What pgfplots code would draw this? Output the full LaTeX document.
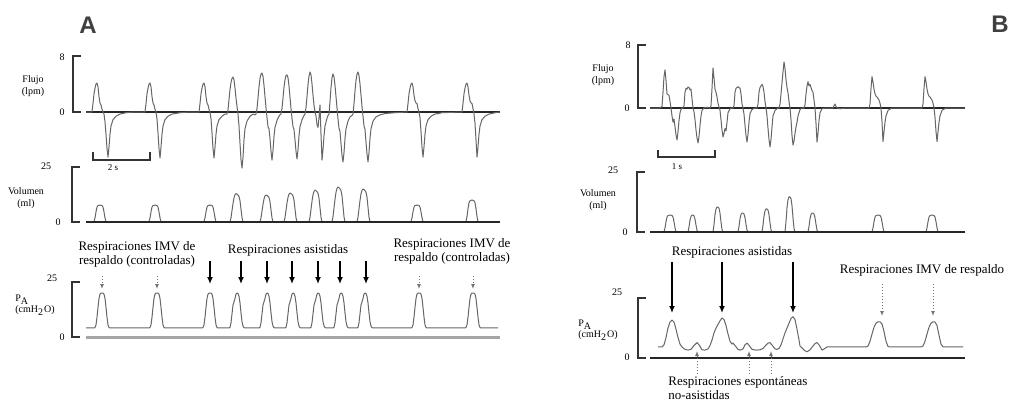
\documentclass[border=0pt]{standalone}
\usepackage{pgfplots}
\pgfplotsset{compat=1.18}
\usepackage{fontspec}
\setmainfont{Liberation Serif}
\newfontfamily\headfont{Liberation Sans}
\usetikzlibrary{arrows.meta}
\newcommand\annfont{\fontsize{6.5}{7}\selectfont}
\newcommand\labfont{\fontsize{5}{5.6}\selectfont}
\newcommand\tickfont{\fontsize{5}{5.6}\selectfont}
\pgfplotsset{panel/.style={scale only axis, width=505.5pt, xmin=0, xmax=1011, hide axis, clip=false, anchor=south west}}
\tikzset{
  trace/.style={draw=black!60, line width=0.5pt, line join=round},
  base/.style={draw=black!85, line width=0.9pt},
  brk/.style={draw=black!80, line width=0.7pt},
  sarr/.style={draw=black, line width=0.7pt, -{Latex[length=3.5pt,width=3pt]}},
  darr/.style={draw=black!55, line width=0.5pt, densely dotted, -{Latex[length=2.5pt,width=2pt]}}
}
\begin{document}
\begin{tikzpicture}
\path[use as bounding box, fill=white] (0,0) rectangle (505.5pt,201.5pt);

% ===== Panel A: Flujo =====
\begin{axis}[panel, at={(0pt,117.5pt)}, height=56pt, ymin=-8, ymax=8]
\addplot[brk] coordinates {(81,8)(73,8)(73,0)(81,0)};
\addplot[base] coordinates {(86,0)(500,0)};
\addplot[trace] coordinates {
(86,0)(92,0)(93,1.2)(94,2.6)(95,3.4)(96,4.0)(97,4.14)(98,3.6)(99,2.2)(100,1.3)(101,1.0)(102,0.4)(103,0)(104,-0.3)(105,-1.4)(106,-3.2)(107,-5.2)(108,-6.43)(109,-5.0)(110,-3.2)(111,-2.0)(113,-1.1)(116,-0.6)(120,-0.3)(126,-0.1)(134,0)
(145,0)(146,1.2)(147,2.6)(148,3.4)(149,4.0)(150,4.14)(151,3.6)(152,2.2)(153,1.3)(154,1.0)(155,0.4)(156,0)(157,-1.0)(158,-3.0)(159,-5.2)(160,-6.57)(161,-5.0)(162,-3.2)(163,-2.0)(165,-1.1)(168,-0.6)(172,-0.3)(180,-0.1)(190,0)
(199,0)(200,1.2)(201,2.6)(202,3.4)(203,4.0)(204,4.14)(205,3.6)(206,2.2)(207,1.3)(208,1.0)(209,0.4)(210,0)(211,-1.0)(212,-3.0)(213,-5.2)(214,-6.57)(215,-5.0)(216,-3.2)(217,-2.0)(219,-1.1)(222,-0.6)(225,-0.3)
(227,-0.3)(228,0.3)(229,1.8)(230,3.2)(231,4.2)(232,4.8)(233,5.0)(234,4.6)(235,3.4)(236,2.0)(237,0.8)(238,-0.3)(239,-2.0)(240,-4.5)(241,-6.8)(242,-8.0)(243,-6.5)(244,-4.0)(245,-2.4)(247,-1.3)(250,-0.6)(253,-0.3)(255,-0.4)
(256,-0.3)(257,0.5)(258,2.0)(259,3.6)(260,4.8)(261,5.4)(262,5.57)(263,5.1)(264,3.8)(265,2.2)(266,0.6)(267,-0.8)(268,-2.1)(269,-2.4)(270,-3.8)(271,-5.6)(272,-6.86)(273,-5.5)(274,-3.5)(275,-2.2)(277,-1.2)(279,-0.6)(280,-0.4)
(281,-0.3)(282,0.5)(283,2.0)(284,3.5)(285,4.6)(286,5.2)(287,5.3)(288,4.9)(289,3.7)(290,2.1)(291,0.5)(292,-0.9)(293,-2.1)(294,-2.5)(295,-4.0)(296,-5.6)(297,-6.71)(298,-5.4)(299,-3.4)(300,-2.1)(302,-1.1)(304,-0.5)
(305,-0.3)(306,0.6)(307,2.2)(308,3.9)(309,5.1)(310,5.71)(311,5.3)(312,4.0)(313,2.4)(314,1.0)(315,0)(316,-0.6)(317,-1.8)(318,-2.2)(319,-0.8)(320,1.0)(321,-3.2)(322,-6.86)(323,-5.4)(324,-3.4)(325,-2.0)(327,-0.9)(328,-0.5)
(329,-0.3)(330,1.5)(331,3.5)(332,4.9)(333,5.43)(334,5.0)(335,3.8)(336,2.2)(337,0.6)(338,-1.0)(339,-2.3)(340,-2.8)(341,-4.5)(342,-6.2)(343,-7.14)(344,-5.8)(345,-3.8)(346,-2.4)(348,-1.3)(350,-0.7)(352,-0.5)
(353,-0.3)(354,1.2)(355,3.0)(356,4.5)(357,5.4)(358,5.71)(359,5.2)(360,4.0)(361,2.4)(362,0.8)(363,-0.6)(364,-2.0)(365,-2.5)(366,-4.3)(367,-6.0)(368,-7.14)(369,-5.8)(370,-3.8)(371,-2.4)(373,-1.3)(376,-0.7)(380,-0.4)(386,-0.2)(395,-0.1)(407,0)
(408,1.2)(409,2.6)(410,3.4)(411,4.0)(412,4.14)(413,3.6)(414,2.4)(415,1.6)(416,1.3)(417,1.2)(418,0.5)(419,0)(420,-0.8)(421,-2.8)(422,-5.0)(423,-6.43)(424,-5.0)(425,-3.2)(426,-2.0)(428,-1.1)(431,-0.6)(435,-0.3)(442,-0.1)(462,0)
(463,1.2)(464,2.6)(465,3.4)(466,4.0)(467,4.14)(468,3.6)(469,2.4)(470,1.6)(471,1.3)(472,1.2)(473,0.5)(474,-0.3)(475,-1.6)(476,-4.0)(477,-6.43)(478,-5.0)(479,-3.2)(480,-2.0)(482,-1.1)(485,-0.6)(489,-0.3)(495,-0.1)(500,0)};
\end{axis}

% ===== Panel A: Volumen =====
\begin{axis}[panel, at={(0pt,90.5pt)}, height=27.5pt, ymin=0, ymax=25]
\addplot[brk] coordinates {(80,25)(72,25)(72,0)(80,0)};
\addplot[trace] coordinates {
(86,0)(94,0)(95,1.93)(96,4.62)(97,6.78)(98,7.47)(100,7.7)(102,7.47)(103,6.78)(104,4.62)(105,1.93)(106,0)
(149,0)(150,1.93)(151,4.62)(152,6.78)(153,7.47)(155,7.7)(157,7.47)(158,6.78)(159,4.62)(160,1.93)(161,0)
(204,0)(205,1.93)(206,4.62)(207,6.78)(208,7.47)(210,7.7)(212,7.47)(213,6.78)(214,4.62)(215,1.93)(216,0)
(230,0)(231,1.94)(232,5.16)(233,8.39)(234,10.97)(235,12.38)(236,12.9)(237,12.64)(238,12.26)(239,11.61)(240,9.68)(241,5.81)(242,1.94)(243,0)
(260,0)(261,1.85)(262,4.92)(263,8.0)(264,10.46)(265,11.81)(266,12.3)(267,12.05)(268,11.69)(269,11.07)(270,9.23)(271,5.54)(272,1.85)(273,0)
(284,0)(285,1.98)(286,5.28)(287,8.58)(288,11.22)(289,12.67)(290,13.2)(291,12.94)(292,12.54)(293,11.88)(294,9.9)(295,5.94)(296,1.98)(297,0)
(309,0)(310,2.18)(311,5.8)(312,9.43)(313,12.33)(314,13.92)(315,14.5)(316,14.21)(317,13.78)(318,13.05)(319,10.88)(320,6.53)(321,2.18)(322,0)
(332,0)(333,2.39)(334,6.36)(335,10.34)(336,13.52)(337,15.26)(338,15.9)(339,15.58)(340,15.11)(341,14.31)(342,11.93)(343,7.16)(344,2.39)(345,0)
(357,0)(358,2.25)(359,6.0)(360,9.75)(361,12.75)(362,14.4)(363,15.0)(364,14.7)(365,14.25)(366,13.5)(367,11.25)(368,6.75)(369,2.25)(370,0)
(411,0)(412,1.93)(413,4.62)(414,6.78)(415,7.47)(417,7.7)(419,7.47)(420,6.78)(421,4.62)(422,1.93)(423,0)
(466,0)(467,2.5)(468,6.0)(469,8.8)(470,9.7)(472,10.0)(474,9.7)(475,8.8)(476,6.0)(477,2.5)(478,0)(500,0)};
\addplot[base] coordinates {(86,0)(500,0)};
\end{axis}

% ===== Panel A: P_A =====
\begin{axis}[panel, at={(0pt,33pt)}, height=27.5pt, ymin=0, ymax=25]
\addplot[brk] coordinates {(80,25)(72,25)(72,0)(80,0)};
\addplot[draw=black!35, line width=1.4pt] coordinates {(86,-0.4)(500,-0.4)};
\addplot[trace] coordinates {
(86,4.1)(94,4.1)(95,4.3)(96,5.5)(97,9)(98,13.5)(99,17.5)(100,19.5)(101,20)(103,20)(104,19.5)(105,17.5)(106,13.5)(107,9)(108,5.5)(109,4.3)(110,4.1)
(149,4.1)(150,4.3)(151,5.5)(152,9)(153,13.5)(154,17.5)(155,19.5)(156,20)(158,20)(159,19.5)(160,17.5)(161,13.5)(162,9)(163,5.5)(164,4.3)(165,4.1)
(202,4.1)(203,4.3)(204,5.5)(205,9)(206,13.5)(207,17.5)(208,19.5)(209,20)(211,20)(212,19.5)(213,17.5)(214,13.5)(215,9)(216,5.5)(217,4.3)(218,4.1)
(229,4.1)(230,4.4)(231,6.5)(232,10.5)(233,14.5)(234,16)(235,17.5)(236,19.5)(237,20)(238,19.8)(239,18.5)(240,15.5)(241,11)(242,7)(243,5)(244,4.3)(245,4.1)
(259,4.1)(260,4.4)(261,6.5)(262,10.5)(263,14.5)(264,16)(265,17.5)(266,19.5)(267,20)(268,19.8)(269,18.5)(270,15.5)(271,11)(272,7)(273,5)(274,4.3)(275,4.1)
(285,4.1)(286,4.4)(287,6.5)(288,10.5)(289,14.5)(290,16)(291,17.5)(292,19.5)(293,20)(294,19.8)(295,18.5)(296,15.5)(297,11)(298,7)(299,5)(300,4.3)(301,4.1)
(310,4.1)(311,4.4)(312,6.5)(313,10.5)(314,14.5)(315,16)(316,17.5)(317,19.5)(318,20)(319,19.8)(320,18.5)(321,15.5)(322,11)(323,7)(324,5)(325,4.3)(326,4.1)
(333,4.1)(334,4.4)(335,6.5)(336,10.5)(337,14.5)(338,16)(339,17.5)(340,19.5)(341,20)(342,19.8)(343,18.5)(344,15.5)(345,11)(346,7)(347,5)(348,4.3)(349,4.1)
(357,4.1)(358,4.4)(359,6.5)(360,10.5)(361,14.5)(362,16)(363,17.5)(364,19.5)(365,20)(366,19.8)(367,18.5)(368,15.5)(369,11)(370,7)(371,5)(372,4.3)(373,4.1)
(411,4.1)(412,4.3)(413,5.5)(414,9)(415,13.5)(416,17.5)(417,19.5)(418,20)(420,20)(421,19.5)(422,17.5)(423,13.5)(424,9)(425,5.5)(426,4.3)(427,4.1)
(465,4.1)(466,4.3)(467,5.5)(468,9)(469,13.5)(470,17.5)(471,19.5)(472,20)(474,20)(475,19.5)(476,17.5)(477,13.5)(478,9)(479,5.5)(480,4.3)(481,4.1)(498,4.1)};
\end{axis}

% ===== Panel B: Flujo =====
\begin{axis}[panel, at={(0pt,126.5pt)}, height=52.5pt, ymin=-5.3333, ymax=8]
\addplot[brk] coordinates {(646,8)(638,8)(638,0)(646,0)};
\addplot[base] coordinates {(650,0)(965,0)};
\addplot[trace] coordinates {
(650,0)(660,0)(662,0.2)(663,2.0)(664,4.0)(665,4.83)(666,3.5)(667,1.8)(669,1.6)(670,0.8)(671,0)(672,-1.0)(673,-1.8)(674,-1.4)(675,-2.4)(676,-3.4)(677,-4.06)(678,-3.0)(679,-1.6)(680,-0.6)(681,-0.2)(682,0)
(683,0)(684,0.3)(685,2.0)(686,2.5)(687,2.4)(688,2.67)(689,2.6)(690,2.3)(691,2.4)(692,1.2)(693,0)(694,-0.5)(695,-1.5)(696,-2.8)(697,-3.8)(698,-4.44)(699,-3.6)(700,-2.2)(701,-1.0)(702,-0.3)(704,0)(707,0.1)(709,0)
(710,0)(711,0.3)(712,2.5)(713,5.08)(714,3.8)(715,2.4)(716,2.0)(717,1.4)(718,0.6)(719,0.1)(720,-0.3)(721,-1.5)(722,-2.8)(723,-3.68)(724,-3.2)(725,-2.6)(726,-2.9)(727,-1.8)(728,-0.6)(730,-0.1)(732,0)
(733,0)(734,0.3)(735,2.0)(736,2.5)(737,2.6)(738,2.7)(739,2.6)(740,2.5)(741,1.8)(742,0.5)(743,0)(744,-0.8)(745,-2.2)(746,-3.5)(747,-4.32)(748,-3.3)(749,-1.8)(750,-0.7)(752,-0.2)(755,0)
(757,0)(758,0.5)(759,2.0)(760,2.6)(761,2.8)(762,3.0)(763,2.7)(764,2.0)(765,0.8)(766,0)(767,-1.0)(768,-2.6)(769,-4.0)(770,-4.95)(771,-4.0)(772,-2.4)(773,-1.0)(775,-0.3)(778,0)
(779,0)(780,0.5)(781,1.8)(782,3.2)(783,4.6)(784,5.84)(785,5.0)(786,3.6)(787,2.6)(788,1.9)(789,0.8)(790,0)(791,-1.5)(792,-3.5)(793,-4.70)(794,-4.2)(795,-3.2)(796,-2.4)(797,-1.8)(798,-1.0)(800,-0.2)(802,0)
(804,0)(805,0.4)(806,1.8)(807,2.8)(808,3.34)(809,2.8)(810,3.0)(811,2.6)(812,2.2)(813,2.0)(814,1.0)(815,0)(816,-2.0)(817,-4.32)(818,-3.2)(819,-1.6)(820,-0.6)(822,-0.1)(825,0)
(833,0)(834,0.3)(835,0.5)(836,0.2)(837,0)(840,-0.1)(845,0)
(869,0)(870,0.5)(871,2.5)(872,3.98)(873,3.3)(874,2.4)(875,1.8)(876,1.5)(877,1.4)(878,1.2)(879,1.0)(880,0.6)(881,0)(882,-1.8)(883,-4.27)(884,-3.0)(885,-1.8)(886,-1.0)(888,-0.3)(892,0)
(922,0)(923,0.5)(924,2.5)(925,3.98)(926,3.3)(927,2.4)(928,1.8)(929,1.5)(930,1.4)(931,1.2)(932,1.0)(933,0.6)(934,0)(935,-1.2)(936,-3.0)(937,-4.27)(938,-3.0)(939,-1.8)(940,-1.0)(942,-0.3)(946,0)(965,0)};
\end{axis}

% ===== Panel B: Volumen =====
\begin{axis}[panel, at={(0pt,85.5pt)}, height=30pt, ymin=0, ymax=25]
\addplot[brk] coordinates {(645,25)(637,25)(637,0)(645,0)};
\addplot[trace] coordinates {
(650,0)(664,0)(665,1.77)(666,4.25)(667,6.23)(668,6.87)(670,7.08)(672,6.87)(673,6.23)(674,4.25)(675,1.77)(676,0)
(688,0)(689,2.12)(690,4.96)(691,6.51)(692,7.08)(693,7.08)(694,6.73)(695,5.31)(696,2.83)(697,0.71)(698,0)
(713,0)(714,3.12)(715,7.28)(716,9.57)(717,10.4)(718,10.4)(719,9.88)(720,7.8)(721,4.16)(722,1.04)(723,0)
(738,0)(739,2.37)(740,5.53)(741,7.27)(742,7.9)(743,7.9)(744,7.5)(745,5.93)(746,3.16)(747,0.79)(748,0)
(762,0)(763,2.88)(764,6.72)(765,8.83)(766,9.6)(767,9.6)(768,9.12)(769,7.2)(770,3.84)(771,0.96)(772,0)
(785,0)(786,4.38)(787,10.22)(788,13.43)(789,14.6)(790,14.6)(791,13.87)(792,10.95)(793,5.84)(794,1.46)(795,0)
(808,0)(809,2.37)(810,5.53)(811,7.27)(812,7.9)(813,7.9)(814,7.5)(815,5.93)(816,3.16)(817,0.79)(818,0)
(872,0)(873,1.77)(874,4.25)(875,6.23)(876,6.87)(878,7.08)(880,6.87)(881,6.23)(882,4.25)(883,1.77)(884,0)
(926,0)(927,1.77)(928,4.25)(929,6.23)(930,6.87)(932,7.08)(934,6.87)(935,6.23)(936,4.25)(937,1.77)(938,0)(965,0)};
\addplot[base] coordinates {(650,0)(965,0)};
\end{axis}

% ===== Panel B: P_A =====
\begin{axis}[panel, at={(0pt,22.5pt)}, height=30pt, ymin=0, ymax=25]
\addplot[brk] coordinates {(646,25)(638,25)(638,0)(646,0)};
\addplot[base] coordinates {(650,0)(965,0)};
\addplot[trace] coordinates {
(658,4.6)(662,4.6)(664,5.5)(666,8.5)(668,12.5)(670,15.0)(672,15.8)(674,15.0)(676,12.0)(678,8.5)(680,5.8)(682,4.6)(685,3.6)(688,3.3)(691,3.6)(694,5.2)(697,6.4)(699,5.5)(702,3.4)(705,3.3)(708,3.8)(710,5.2)(712,7.5)(714,10.5)(716,12.5)(718,14.0)(720,15.5)(722,16.7)(724,16.0)(726,13.5)(728,10.0)(730,7.0)(732,5.8)(733,6.2)(735,5.2)(738,3.6)(740,3.3)(743,3.8)(745,5.5)(747,6.2)(749,5.3)(752,3.6)(756,3.3)(760,3.4)(763,4.0)(766,5.4)(768,6.2)(770,6.4)(772,5.4)(775,3.8)(777,3.6)(779,4.0)(781,5.5)(783,8.0)(785,10.5)(787,12.5)(789,14.5)(791,16.5)(793,17.2)(795,16.0)(797,12.0)(799,7.5)(800,5.0)(802,4.2)(805,3.0)(807,2.6)(810,3.4)(813,5.0)(815,6.0)(817,6.4)(819,5.5)(822,3.3)(825,4.0)(827,4.6)(866,4.6)(868,5.0)(870,7.0)(872,10.0)(874,12.8)(876,14.5)(878,15.1)(880,15.1)(882,14.2)(884,11.0)(886,7.0)(888,4.8)(890,4.6)(921,4.6)(923,5.0)(925,7.0)(927,10.0)(929,12.8)(931,14.5)(933,15.1)(935,15.0)(937,13.5)(939,9.5)(941,5.8)(943,4.6)(963,4.6)};
\end{axis}

% ===== Annotations in pixel coordinates =====
\begin{scope}[x=0.5pt,y=-0.5pt,shift={(0pt,201.5pt)}]
\node[font=\headfont\bfseries\fontsize{12}{12}\selectfont, text=black!75] at (88,25) {A};
\node[font=\headfont\bfseries\fontsize{12}{12}\selectfont, text=black!75] at (1000,24) {B};
% A labels
\node[font=\labfont, align=center, inner sep=0] at (33,86) {Flujo\\(lpm)};
\node[font=\tickfont, inner sep=0] at (62,57) {8};
\node[font=\tickfont, inner sep=0] at (62,112) {0};
\node[font=\labfont, align=center, inner sep=0] at (26,198) {Volumen\\(ml)};
\node[font=\tickfont, inner sep=0] at (46,166) {25};
\node[font=\tickfont, inner sep=0] at (58,222) {0};
\node[font=\labfont, align=left, inner sep=0, anchor=west] at (15,305) {P\textsubscript{A}\\(cmH\textsubscript{2}O)};
\node[font=\tickfont, inner sep=0] at (52,278) {25};
\node[font=\tickfont, inner sep=0] at (62,337) {0};
% B labels
\node[font=\labfont, align=center, inner sep=0] at (603,75) {Flujo\\(lpm)};
\node[font=\tickfont, inner sep=0] at (628,45) {8};
\node[font=\tickfont, inner sep=0] at (627,108) {0};
\node[font=\labfont, align=center, inner sep=0] at (598,200) {Volumen\\(ml)};
\node[font=\tickfont, inner sep=0] at (613,170) {25};
\node[font=\tickfont, inner sep=0] at (625,232) {0};
\node[font=\labfont, align=left, inner sep=0, anchor=west] at (578,330) {P\textsubscript{A}\\(cmH\textsubscript{2}O)};
\node[font=\tickfont, inner sep=0] at (617,292) {25};
\node[font=\tickfont, inner sep=0] at (627,357) {0};
% scale bars
\draw[brk] (93,152) -- (93,160) -- (150,160) -- (150,152);
\node[font=\fontsize{4.5}{5}\selectfont, inner sep=0] at (113,168) {2 s};
\draw[brk] (658,150) -- (658,157) -- (715,157) -- (715,150);
\node[font=\fontsize{4.5}{5}\selectfont, inner sep=0] at (677,167) {1 s};
% A annotations
\node[font=\annfont, align=center, inner sep=0] at (137,254) {Respiraciones IMV de\\respaldo (controladas)};
\node[font=\annfont, inner sep=0] at (288,250) {Respiraciones asistidas};
\node[font=\annfont, align=center, inner sep=0] at (452,251) {Respiraciones IMV de\\respaldo (controladas)};
\foreach \x in {210,241,267,292,318,340,366} \draw[sarr] (\x,261) -- (\x,284);
\foreach \x in {102,157,419,473} \draw[darr] (\x,276) -- (\x,289);
% B annotations
\node[font=\annfont, inner sep=0] at (732,252) {Respiraciones asistidas};
\node[font=\annfont, inner sep=0] at (922,270) {Respiraciones IMV de respaldo};
\foreach \x in {672,722,793} \draw[sarr] (\x,262) -- (\x,313);
\foreach \x in {882,933} \draw[darr] (\x,284) -- (\x,316);
\foreach \x in {697,749,771} \draw[darr] (\x,374) -- (\x,351);
\node[font=\annfont, align=left, inner sep=0, anchor=north west] at (668,376) {Respiraciones espontáneas\\no-asistidas};
\end{scope}
\end{tikzpicture}
\end{document}
